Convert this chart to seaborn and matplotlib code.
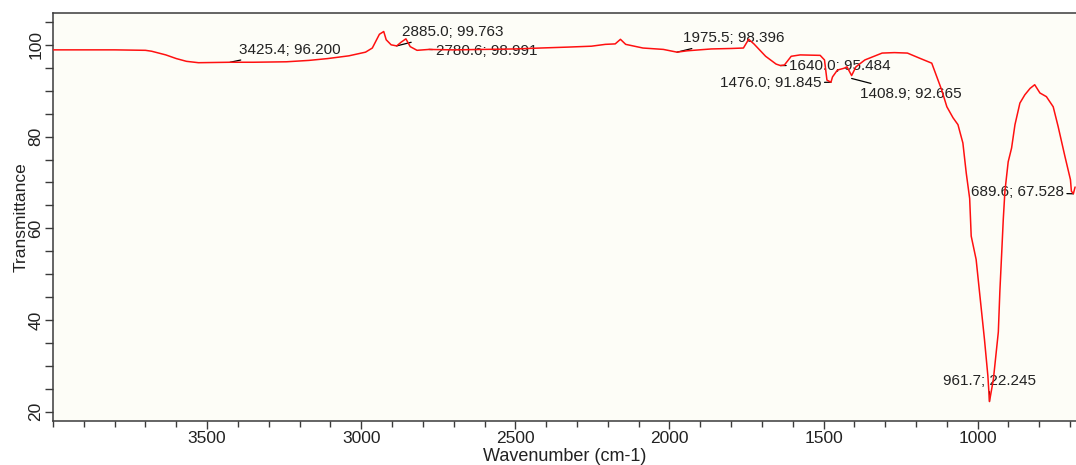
import matplotlib
matplotlib.use("Agg")
import matplotlib.pyplot as plt
from matplotlib.ticker import FixedLocator, MultipleLocator
import seaborn as sns
import pandas as pd

# ---- spectrum data ----
wavenumber = [4000, 3900, 3800, 3700, 3680, 3634, 3600, 3567, 3528, 3425.4, 3350, 3243,
              3170, 3109, 3040, 2986, 2964, 2941, 2927, 2919, 2903, 2885, 2870, 2855,
              2841, 2819, 2780.6, 2700, 2600, 2500, 2419, 2330, 2253, 2208, 2176, 2159,
              2142, 2086, 2020, 1975.5, 1942, 1864, 1800, 1760, 1743, 1726, 1688, 1654,
              1640, 1627, 1605, 1576, 1511, 1497, 1489, 1476, 1471, 1455, 1433, 1424,
              1409, 1395, 1366, 1310, 1270, 1228, 1189, 1149, 1133, 1117, 1100, 1080,
              1064, 1048, 1037, 1026, 1021, 1005, 994, 978, 967, 961.7, 949, 933, 928,
              922, 917, 911.6, 901, 890, 879, 863, 847, 830, 815, 798, 777, 755, 739,
              717, 699, 696, 689.6, 684]
transmittance = [98.9, 98.9, 98.9, 98.8, 98.6, 97.8, 97.0, 96.4, 96.1, 96.2, 96.2, 96.3,
                 96.6, 97.0, 97.6, 98.4, 99.3, 102.3, 102.9, 101.1, 100.0, 99.76, 100.6, 101.3,
                 99.6, 98.8, 98.99, 98.9, 99.0, 99.1, 99.3, 99.5, 99.7, 100.1, 100.2, 101.2,
                 100.1, 99.3, 99.0, 98.4, 98.7, 99.1, 99.2, 99.3, 101.2, 100.2, 97.5, 95.8,
                 95.48, 95.6, 97.5, 97.8, 97.7, 96.7, 92.3, 91.85, 93.0, 94.5, 94.9, 95.2,
                 93.3, 95.2, 96.7, 98.2, 98.3, 98.2, 97.1, 96.0, 93.1, 90.2, 86.5, 84.1,
                 82.6, 78.6, 72.0, 66.5, 58.3, 53.2, 46.1, 35.8, 27.9, 22.25, 27.1, 37.4, 46.3,
                 54.7, 61.9, 68.1, 74.5, 77.5, 82.6, 87.3, 89.1, 90.5, 91.3, 89.5, 88.7, 86.5, 82.2,
                 75.7, 70.6, 68.1, 67.53, 69.0]

# ---- peak labels ----
peak_wn = [3425.4, 2885.0, 2780.6, 1975.5, 1640.0, 1476.0, 1408.9, 961.7, 689.6]
peak_T = [96.200, 99.763, 98.991, 98.396, 95.484, 91.845, 92.665, 22.245, 67.528]
peak_labels = ["3425.4; 96.200", "2885.0; 99.763", "2780.6; 98.991", "1975.5; 98.396",
               "1640.0; 95.484", "1476.0; 91.845", "1408.9; 92.665", "961.7; 22.245",
               "689.6; 67.528"]
x_ticks = [3500, 3000, 2500, 2000, 1500, 1000]
y_ticks = [20, 40, 60, 80, 100]

sns.set_style("ticks")
plt.rcParams['font.family'] = ['Liberation Sans', 'DejaVu Sans']

fig = plt.figure(figsize=(10.76, 4.65), dpi=100)
fig.patch.set_facecolor("white")
ax = fig.add_axes([53 / 1076, 1 - 421 / 465, 1 - 53 / 1076, (421 - 12.7) / 465])
ax.set_facecolor("#fdfdf7")

df = pd.DataFrame({"Wavenumber": wavenumber, "Transmittance": transmittance})
sns.lineplot(data=df, x="Wavenumber", y="Transmittance", ax=ax, color="#ff1010",
             linewidth=1.1, sort=False, estimator=None, zorder=3)

ax.set_xlim(4000, 681)
ax.set_ylim(18, 107)
ax.xaxis.set_major_locator(FixedLocator(x_ticks))
ax.xaxis.set_minor_locator(MultipleLocator(100))
ax.yaxis.set_major_locator(FixedLocator(y_ticks))
ax.yaxis.set_minor_locator(MultipleLocator(5))

spine_col = "#3a3a3a"
for s in ["left", "bottom", "top"]:
    ax.spines[s].set_color(spine_col)
    ax.spines[s].set_linewidth(1.1)
ax.spines["right"].set_visible(False)

ax.tick_params(axis="x", which="major", length=6, width=1.0, color=spine_col,
               labelsize=12.5, pad=1.5, labelcolor="#222222")
ax.tick_params(axis="x", which="minor", length=4.5, width=1.0, color=spine_col)
ax.tick_params(axis="y", which="both", length=5.5, width=1.0, color=spine_col,
               labelsize=12.5, pad=1.5, labelcolor="#222222")
plt.setp(ax.get_yticklabels(), rotation=90, va="center")

ax.set_xlabel("Wavenumber (cm-1)", fontsize=13, color="#222222", labelpad=1)
ax.set_ylabel("Transmittance", fontsize=12.5, color="#222222")
ax.yaxis.set_label_coords(-0.0235, 0.5)

# annotation placement (offsets in points) and alignment
offsets = [(6.5, 9), (3.6, 10), (5, -1), (4.5, 10), (6.5, 0), (-7, -0.8),
           (6, -11), (0, 14.5), (-7, 1)]
aligns = ["left", "left", "left", "left", "left", "right", "left", "center", "right"]
for wn, t, lab, off, ha in zip(peak_wn, peak_T, peak_labels, offsets, aligns):
    ax.annotate(lab, xy=(wn, t), xytext=off, textcoords="offset points",
                ha=ha, va="center", fontsize=11, color="#222222", zorder=2,
                arrowprops=dict(arrowstyle="-", color="black", lw=0.9,
                                shrinkA=0, shrinkB=0))

fig.savefig("out.png", dpi=100, facecolor=fig.get_facecolor())
